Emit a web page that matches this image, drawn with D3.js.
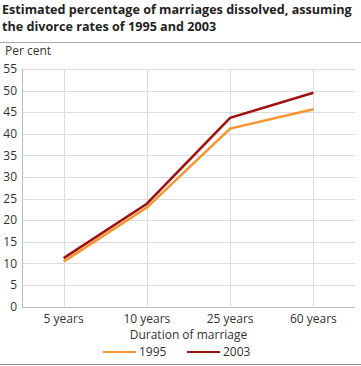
<!DOCTYPE html>
<html>
<head>
<meta charset="utf-8">
<script src="https://cdn.jsdelivr.net/npm/d3@7"></script>
<style>
  body { margin: 0; background: #fff; }
  text { font-family: "Open Sans", sans-serif; fill: #333; }
</style>
</head>
<body>
<div id="chart"></div>
<script>
// data
var categories = ["5 years", "10 years", "25 years", "60 years"];
var values1995 = [10.4, 22.9, 41.2, 45.7];
var values2003 = [11.2, 23.8, 43.7, 49.5];
var yTicks = [0, 5, 10, 15, 20, 25, 30, 35, 40, 45, 50, 55];
var seriesNames = ["1995", "2003"];

var w = 361, h = 366;
var color = d3.scaleOrdinal(seriesNames, ["#f7952c", "#a0100f"]);

var svg = d3.select("#chart").append("svg")
  .attr("width", w)
  .attr("height", h);

// title; font shrinks a little if the first line runs wider than the reference
var titleLines = [
  { text: "Estimated percentage of marriages dissolved, assuming", y: 14 },
  { text: "the divorce rates of 1995 and 2003", y: 31 }
];
var title = svg.append("g")
  .style("font-weight", "bold")
  .style("font-size", "13px");
title.selectAll("text")
  .data(titleLines)
  .enter()
  .append("text")
  .attr("x", 2)
  .attr("y", function(d) { return d.y; })
  .style("fill", "#222")
  .text(function(d) { return d.text; });
var firstW = title.select("text").node().getComputedTextLength();
if (firstW > 350) {
  title.style("font-size", (13 * 350 / firstW) + "px");
}

svg.append("line")
  .attr("x1", 0).attr("x2", w)
  .attr("y1", 42.5).attr("y2", 42.5)
  .attr("stroke", "#aaa");

svg.append("line")
  .attr("x1", 0).attr("x2", w)
  .attr("y1", 364.5).attr("y2", 364.5)
  .attr("stroke", "#888");

var plotLeft = 22, plotRight = 355, plotTop = 69, plotBottom = 306.5;

var x = d3.scalePoint()
  .domain(categories)
  .range([plotLeft, plotRight])
  .padding(0.5);

var y = d3.scaleLinear()
  .domain([0, 55])
  .range([plotBottom, plotTop]);

// horizontal grid
svg.append("g")
  .selectAll("line")
  .data(yTicks)
  .enter()
  .append("line")
  .attr("x1", plotLeft).attr("x2", plotRight)
  .attr("y1", function(d) { return Math.round(y(d)) + 0.5; })
  .attr("y2", function(d) { return Math.round(y(d)) + 0.5; })
  .attr("stroke", "#dcdcdc");

// vertical grid
svg.append("g")
  .selectAll("line")
  .data(categories)
  .enter()
  .append("line")
  .attr("x1", function(d) { return Math.round(x(d)) + 0.5; })
  .attr("x2", function(d) { return Math.round(x(d)) + 0.5; })
  .attr("y1", plotTop).attr("y2", plotBottom)
  .attr("stroke", "#dcdcdc");

// axis lines
svg.append("line")
  .attr("x1", plotLeft + 0.5).attr("x2", plotLeft + 0.5)
  .attr("y1", plotTop).attr("y2", Math.round(plotBottom) + 0.5)
  .attr("stroke", "#bbb");
svg.append("line")
  .attr("x1", plotLeft).attr("x2", plotRight)
  .attr("y1", Math.round(plotBottom) + 0.5).attr("y2", Math.round(plotBottom) + 0.5)
  .attr("stroke", "#bbb");

// y tick labels
svg.append("g")
  .selectAll("text")
  .data(yTicks)
  .enter()
  .append("text")
  .attr("x", 17)
  .attr("y", function(d) { return y(d); })
  .attr("dy", "0.35em")
  .attr("text-anchor", "end")
  .style("font-size", "12px")
  .text(function(d) { return d; });

svg.append("text")
  .attr("x", 5)
  .attr("y", 55)
  .style("font-size", "12px")
  .text("Per cent");

// x tick labels
svg.append("g")
  .selectAll("text")
  .data(categories)
  .enter()
  .append("text")
  .attr("x", function(d) { return x(d); })
  .attr("y", 323)
  .attr("text-anchor", "middle")
  .style("font-size", "12px")
  .text(function(d) { return d; });

svg.append("text")
  .attr("x", (plotLeft + plotRight) / 2)
  .attr("y", 339)
  .attr("text-anchor", "middle")
  .style("font-size", "12px")
  .text("Duration of marriage");

// lines
var line = d3.line()
  .x(function(d, i) { return x(categories[i]); })
  .y(function(d) { return y(d); });

var series = [
  { name: "1995", values: values1995 },
  { name: "2003", values: values2003 }
];

svg.append("g")
  .selectAll("path")
  .data(series)
  .enter()
  .append("path")
  .attr("d", function(d) { return line(d.values); })
  .attr("fill", "none")
  .attr("stroke", function(d) { return color(d.name); })
  .attr("stroke-width", 2.5);

// legend
var legend = svg.append("g")
  .selectAll("g")
  .data(seriesNames)
  .enter()
  .append("g")
  .attr("transform", function(d, i) { return "translate(" + (103 + i * 84) + ",352)"; });

legend.append("line")
  .attr("x1", 0).attr("x2", 33)
  .attr("y1", 0).attr("y2", 0)
  .attr("stroke", function(d) { return color(d); })
  .attr("stroke-width", 2);

legend.append("text")
  .attr("x", 36)
  .attr("y", 0)
  .attr("dy", "0.35em")
  .style("font-size", "12px")
  .text(function(d) { return d; });
</script>
</body>
</html>
